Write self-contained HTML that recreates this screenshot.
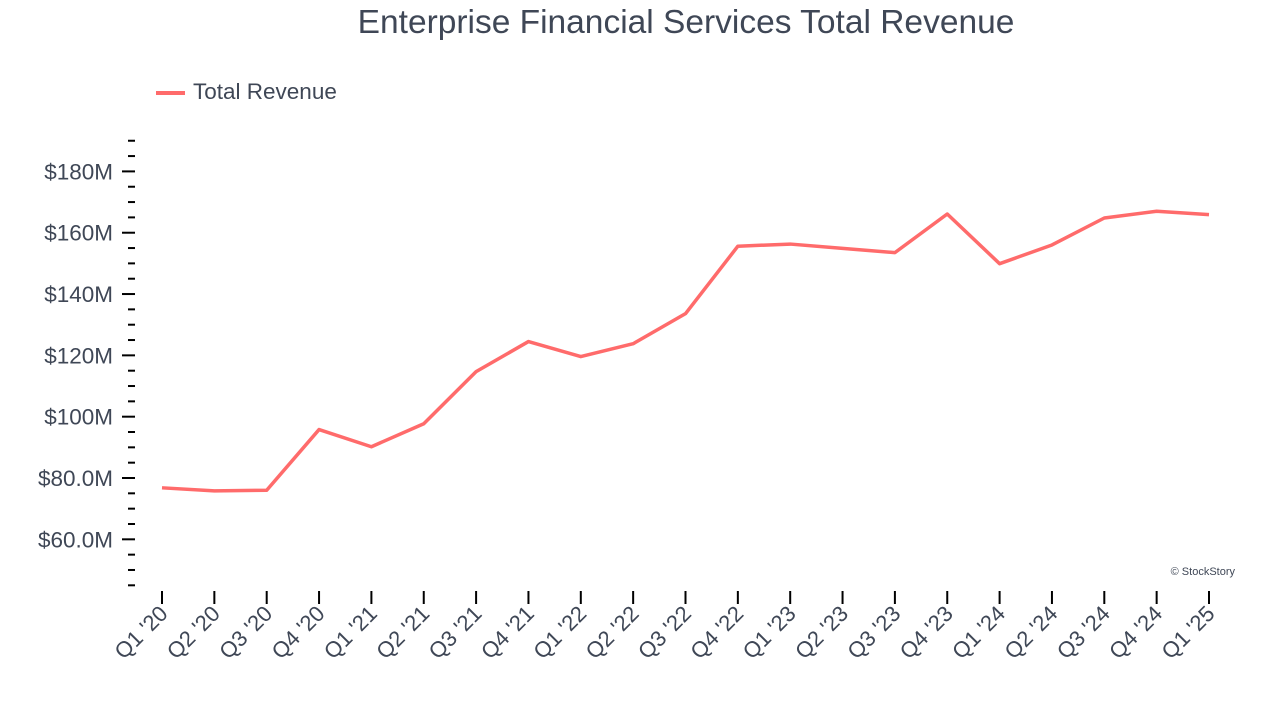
<!DOCTYPE html>
<html><head><meta charset="utf-8"><style>
body{margin:0;background:#fff;}
svg text{font-family:"Liberation Sans",Arial,sans-serif;fill:#3f4756;}
</style></head><body>
<svg width="1280" height="720">
<text x="686" y="33" font-size="33.5" text-anchor="middle">Enterprise Financial Services Total Revenue</text>
<g>
<line x1="156" y1="93" x2="185" y2="93" stroke="#ff6b6b" stroke-width="4"/>
<text x="193" y="99" font-size="22.5">Total Revenue</text>
</g>
<text x="1235" y="575" font-size="11" text-anchor="end">© StockStory</text>
<g id="yaxis"></g>
<g id="xaxis"></g>
<path id="line" fill="none" stroke="#ff6b6b" stroke-width="3.5" stroke-linejoin="round"/>
</svg>
<script>
const categories=["Q1 '20","Q2 '20","Q3 '20","Q4 '20","Q1 '21","Q2 '21","Q3 '21","Q4 '21","Q1 '22","Q2 '22","Q3 '22","Q4 '22","Q1 '23","Q2 '23","Q3 '23","Q4 '23","Q1 '24","Q2 '24","Q3 '24","Q4 '24","Q1 '25"];
const revenue=[76.8,75.8,76.0,95.8,90.2,97.7,114.7,124.5,119.6,123.8,133.6,155.6,156.3,154.9,153.5,166.1,149.9,156.0,164.8,167.0,165.9];
const yTickValues=[60,80,100,120,140,160,180];
const yTickLabels=["$60.0M","$80.0M","$100M","$120M","$140M","$160M","$180M"];
const NS="http://www.w3.org/2000/svg";
const y=v=>478-(v-80)*3.066;
const x=i=>162+i*52.35;
function mk(t,a){const e=document.createElementNS(NS,t);for(const k in a)e.setAttribute(k,a[k]);return e;}
const ya=document.getElementById('yaxis');
for(let v=45;v<=190;v+=5){
  const major=yTickValues.includes(v);
  const l=mk('line',{x1:major?122:128,x2:135,y1:y(v),y2:y(v),stroke:'#000','stroke-width':2});
  
  
  ya.appendChild(l);
}
yTickValues.forEach((v,i)=>{
  const t=mk('text',{x:113,y:y(v)+8,'font-size':22.5,'text-anchor':'end'});
  t.textContent=yTickLabels[i];
  
  
  ya.appendChild(t);
});
const xa=document.getElementById('xaxis');
categories.forEach((c,i)=>{
  const l=mk('line',{x1:x(i),x2:x(i),y1:591,y2:604,stroke:'#000','stroke-width':2});
  
  
  xa.appendChild(l);
  const t=mk('text',{x:x(i)+7,y:615,'font-size':22,'text-anchor':'end',transform:`rotate(-45 ${x(i)+7} 615)`});
  t.textContent=c;
  
  
  xa.appendChild(t);
});
document.getElementById('line').setAttribute('d',revenue.map((v,i)=>(i?'L':'M')+x(i)+' '+y(v)).join(' '));
</script>
</body></html>
